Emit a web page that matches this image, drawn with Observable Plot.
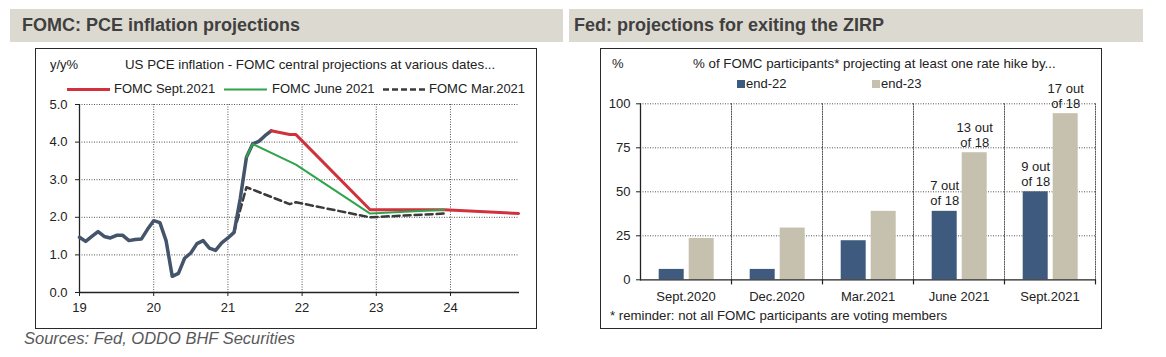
<!DOCTYPE html>
<html>
<head>
<meta charset="utf-8">
<script src="https://cdn.jsdelivr.net/npm/d3@7"></script>
<script src="https://cdn.jsdelivr.net/npm/@observablehq/plot@0.6"></script>
<style>
  html, body { margin: 0; padding: 0; background: #fff; }
  body { width: 1166px; height: 357px; position: relative; overflow: hidden;
         font-family: "Liberation Sans", Arial, sans-serif; color: #222; }
  .band { position: absolute; background: #dcdad0; }
  .title { position: absolute; font-weight: bold; font-size: 18px; color: #404040; line-height: 20px; white-space: nowrap; }
  .box { position: absolute; border: 1.5px solid #2a2a2a; box-sizing: border-box; }
  .t { position: absolute; white-space: nowrap; line-height: 16px; font-size: 13px; color: #222; }
  .chart { position: absolute; }
  .sw { position: absolute; width: 8px; height: 8px; }
  svg.leg { position: absolute; overflow: visible; }
</style>
</head>
<body>
<div class="band" style="left:10px;top:9px;width:553px;height:33px;"></div>
<div class="band" style="left:569px;top:9px;width:574px;height:33px;"></div>
<div class="title" style="left:22px;top:15px;">FOMC: PCE inflation projections</div>
<div class="title" style="left:574px;top:15px;">Fed: projections for exiting the ZIRP</div>

<div class="box" style="left:35px;top:48px;width:502px;height:281px;"></div>
<div class="box" style="left:600px;top:48px;width:502px;height:281px;"></div>

<div id="left" class="chart" style="left:36px;top:50px;"></div>
<div id="right" class="chart" style="left:602px;top:50px;"></div>

<!-- left panel texts -->
<div class="t" style="left:50px;top:57px;">y/y%</div>
<div class="t" style="left:125px;top:57px;font-size:13.3px;">US PCE inflation - FOMC central projections at various dates...</div>
<svg class="leg" style="left:0;top:0;" width="1" height="1">
  <line x1="67" x2="110" y1="89.5" y2="89.5" stroke="#d0313d" stroke-width="3"></line>
  <line x1="224" x2="267" y1="89.5" y2="89.5" stroke="#2fa44c" stroke-width="2"></line>
  <line x1="383" x2="427" y1="89.5" y2="89.5" stroke="#3b3b3b" stroke-width="2.5" stroke-dasharray="6,3"></line>
</svg>
<div class="t" style="left:114px;top:81px;">FOMC Sept.2021</div>
<div class="t" style="left:272px;top:81px;">FOMC June 2021</div>
<div class="t" style="left:429px;top:81px;">FOMC Mar.2021</div>

<!-- right panel texts -->
<div class="t" style="left:612px;top:56px;">%</div>
<div class="t" style="left:693px;top:56px;font-size:13.3px;">% of FOMC participants* projecting at least one rate hike by...</div>
<div class="sw" style="left:737px;top:80px;background:#3f5a7f;"></div>
<div class="t" style="left:746px;top:76px;">end-22</div>
<div class="sw" style="left:872px;top:80px;background:#c6c0af;"></div>
<div class="t" style="left:881px;top:76px;">end-23</div>
<div class="t" style="left:610px;top:308px;font-size:13.2px;">* reminder: not all FOMC participants are voting members</div>

<div class="t" style="left:24px;top:328px;font-size:16.5px;line-height:20px;font-style:italic;color:#595959;">Sources: Fed, ODDO BHF Securities</div>

<script>
// ---------------- Left chart data ----------------
const actualStartYear = 19;           // Jan 2019, monthly observations
const actualValues = [1.47, 1.36, 1.49, 1.62, 1.49, 1.45, 1.52, 1.52, 1.38, 1.41, 1.42, 1.68,
                      1.91, 1.86, 1.38, 0.43, 0.51, 0.91, 1.05, 1.30, 1.38, 1.18, 1.12, 1.32,
                      1.45, 1.60, 2.50, 3.60, 3.95, 4.02, 4.17, 4.30];
const septX = [21.583, 21.833, 21.917, 22.917, 23.917, 24.917];
const septY = [4.30, 4.20, 4.20, 2.20, 2.20, 2.10];
const juneX = [21.25, 21.333, 21.917, 22.917, 23.917];
const juneY = [3.60, 3.95, 3.40, 2.10, 2.20];
const marX  = [21.083, 21.25, 21.833, 21.917, 22.917, 23.917];
const marY  = [1.60, 2.80, 2.35, 2.40, 2.00, 2.10];
const leftXTicks = [19, 20, 21, 22, 23, 24];
const leftYTicks = [0, 1, 2, 3, 4, 5];

// ---------------- Right chart data ----------------
const meetings = ["Sept.2020", "Dec.2020", "Mar.2021", "June 2021", "Sept.2021"];
const seriesNames = ["end-22", "end-23"];
const end22 = [5.9, 5.9, 22.2, 38.9, 50.0];
const end23 = [23.5, 29.4, 38.9, 72.2, 94.4];
const rightYTicks = [0, 25, 50, 75, 100];
const noteMeetings = ["June 2021", "June 2021", "Sept.2021", "Sept.2021"];
const noteSeries = ["end-22", "end-23", "end-22", "end-23"];
const noteTexts = ["7 out\nof 18", "13 out\nof 18", "9 out\nof 18", "17 out\nof 18"];

// ---------------- Build tables ----------------
const actual = actualValues.map((v, i) => ({x: actualStartYear + i / 12, y: v}));
const zip = (xs, ys) => xs.map((x, i) => ({x, y: ys[i]}));
const sept = zip(septX, septY), june = zip(juneX, juneY), mar = zip(marX, marY);

const font = "'Liberation Sans', Arial, sans-serif";
const grid = {stroke: "#555", strokeDasharray: "1,1.5", strokeWidth: 1};

const left = Plot.plot({
  width: 499, height: 276,
  marginLeft: 43, marginRight: 16, marginTop: 54, marginBottom: 34,
  style: {fontFamily: font, fontSize: "13px", color: "#222", background: "transparent", overflow: "visible"},
  x: {domain: [19, 24.93], ticks: leftXTicks, tickFormat: d => String(d), tickSize: 4, tickPadding: 6, label: null},
  y: {domain: [0, 5], ticks: leftYTicks, tickFormat: d3.format(".1f"), tickSize: 4, tickPadding: 8, label: null},
  marks: [
    Plot.ruleY(leftYTicks.filter(d => d > 0), grid),
    Plot.ruleX(leftXTicks.filter(d => d > 19), grid),
    Plot.ruleX([19], {stroke: "#222", strokeWidth: 1.3}),
    Plot.ruleY([0], {stroke: "#222", strokeWidth: 1.3}),
    Plot.line(mar, {x: "x", y: "y", stroke: "#3b3b3b", strokeWidth: 2.5, strokeDasharray: "7,4"}),
    Plot.line(actual, {x: "x", y: "y", stroke: "#44546a", strokeWidth: 3.5}),
    Plot.line(sept, {x: "x", y: "y", stroke: "#d0313d", strokeWidth: 3}),
    Plot.line(june, {x: "x", y: "y", stroke: "#2fa44c", strokeWidth: 2})
  ]
});
document.getElementById("left").appendChild(left);

const bars = [];
meetings.forEach((m, i) => {
  bars.push({meeting: m, series: "end-22", value: end22[i]});
  bars.push({meeting: m, series: "end-23", value: end23[i]});
});
const notes = noteTexts.map((t, i) => ({
  meeting: noteMeetings[i], series: noteSeries[i], text: t,
  value: (noteSeries[i] === "end-22" ? end22 : end23)[meetings.indexOf(noteMeetings[i])]
}));

const right = Plot.plot({
  width: 497, height: 276,
  marginLeft: 36.3, marginRight: 2.3, marginTop: 53.3, marginBottom: 46.7,
  style: {fontFamily: font, fontSize: "13px", color: "#222", background: "transparent", overflow: "visible"},
  fx: {domain: meetings, padding: 0, label: null, axis: "bottom", tickSize: 0, tickPadding: 12},
  x: {domain: seriesNames, paddingInner: 0.18, paddingOuter: 0.59, axis: null},
  y: {domain: [0, 100], ticks: rightYTicks, tickSize: 4, tickPadding: 6, label: null},
  color: {domain: seriesNames, range: ["#3f5a7f", "#c6c0af"]},
  marks: [
    Plot.ruleY(rightYTicks.filter(d => d > 0), grid),
    Plot.frame({anchor: "right", ...grid}),
    Plot.frame({anchor: "right", stroke: "#222", strokeWidth: 1.2, insetTop: 176, insetBottom: -4}),
    Plot.barY(bars, {fx: "meeting", x: "series", y: "value", fill: "series"}),
    Plot.ruleY([0], {stroke: "#222", strokeWidth: 1.3}),
    Plot.frame({anchor: "left", facetAnchor: "left", stroke: "#222", strokeWidth: 1.3}),
    Plot.text(notes, {fx: "meeting", x: "series", y: "value", text: "text",
      lineAnchor: "bottom", lineHeight: 1.15, dy: -6, fontSize: 13, fill: "#222"})
  ]
});
document.getElementById("right").appendChild(right);
</script>
</body>
</html>
